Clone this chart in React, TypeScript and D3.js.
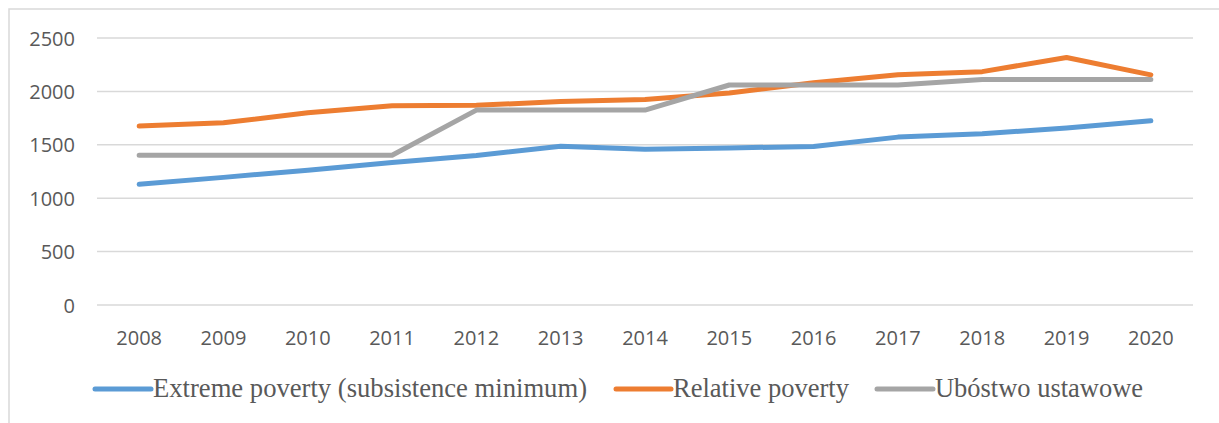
import React from "react";
import * as d3 from "d3";

const years = ["2008","2009","2010","2011","2012","2013","2014","2015","2016","2017","2018","2019","2020"];
const extremePoverty = [1130,1195,1262,1335,1400,1487,1458,1470,1485,1572,1603,1657,1725];
const relativePoverty = [1675,1706,1800,1865,1870,1905,1925,1985,2080,2155,2185,2318,2155];
const ustawowe = [1402,1402,1402,1402,1825,1825,1825,2060,2060,2060,2112,2112,2112];
const yTicks = [0,500,1000,1500,2000,2500];

const seriesNames = ["Extreme poverty (subsistence minimum)","Relative poverty","Ubóstwo ustawowe"];
const seriesColors = ["#5B9BD5","#ED7D31","#A5A5A5"];
const seriesData = [extremePoverty, relativePoverty, ustawowe];

export default function App() {
  const W = 1219, H = 423;
  const x = d3.scaleBand<string>().domain(years).range([97, 1193]);
  const y = d3.scaleLinear().domain([0, 2500]).range([305, 38]);
  const line = d3.line<number>()
    .x((_, i) => (x(years[i]) as number) + x.bandwidth() / 2)
    .y(d => y(d));
  const legend = [
    { x0: 95, x1: 151, tx: 153, tl: 434 },
    { x0: 616, x1: 671, tx: 673, tl: 176 },
    { x0: 877, x1: 933, tx: 935, tl: 208 },
  ];
  const axisFont = "'Open Sans', sans-serif";
  return (
    <svg width={W} height={H} style={{ position: "absolute", left: 0, top: 0, background: "#fff" }}>
      <rect x={9} y={9} width={W + 20} height={H + 20} fill="#fff" stroke="#d9d9d9" strokeWidth={1.5} />
      {yTicks.map(t => (
        <g key={t}>
          <line x1={97} x2={1193} y1={y(t)} y2={y(t)} stroke="#d9d9d9" strokeWidth={1.5} />
          <text x={75} y={y(t) + 7.5} textAnchor="end" fontFamily={axisFont} fontSize={20} fill="#595959">{t}</text>
        </g>
      ))}
      {years.map(yr => (
        <text key={yr} x={(x(yr) as number) + x.bandwidth() / 2} y={345} textAnchor="middle" fontFamily={axisFont} fontSize={20} fill="#595959">{yr}</text>
      ))}
      {seriesData.map((s, i) => (
        <path key={i} d={line(s) || ""} fill="none" stroke={seriesColors[i]} strokeWidth={5} strokeLinecap="round" strokeLinejoin="round" />
      ))}
      {legend.map((l, i) => (
        <g key={i}>
          <line x1={l.x0} x2={l.x1} y1={389} y2={389} stroke={seriesColors[i]} strokeWidth={5} strokeLinecap="round" />
          <text x={l.tx} y={397} fontFamily="'Liberation Serif', 'Times New Roman', serif" fontSize={28} fill="#595959" textLength={l.tl} lengthAdjust="spacingAndGlyphs">{seriesNames[i]}</text>
        </g>
      ))}
    </svg>
  );
}
